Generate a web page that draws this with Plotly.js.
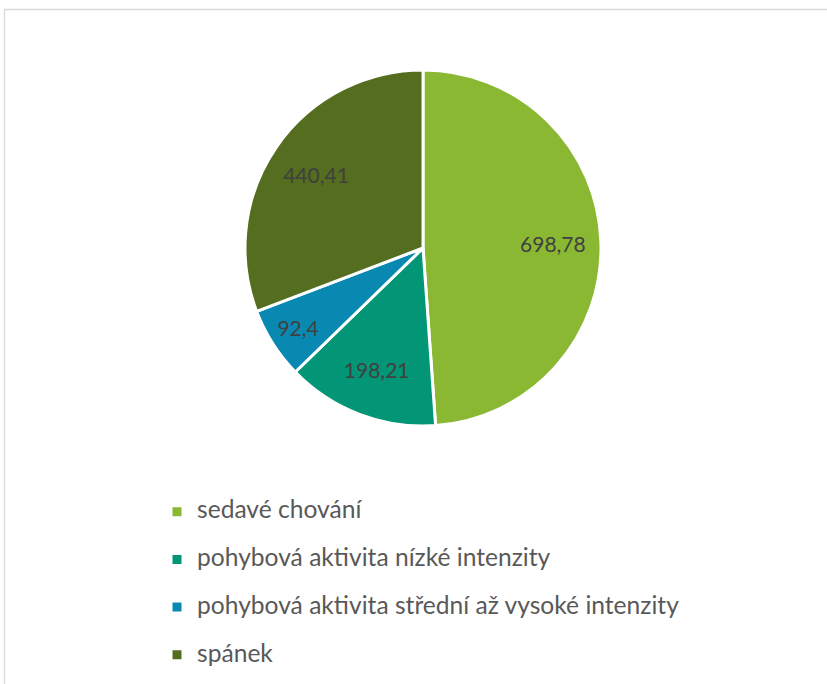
<!DOCTYPE html>
<html>
<head>
<meta charset="utf-8">
<script src="https://cdn.plot.ly/plotly-3.0.1.min.js"></script>
<style>html,body{margin:0;padding:0;background:#fff;}#chart{width:827px;height:684px;}</style>
</head>
<body>
<div id="chart"></div>
<script>
var categories = ["sedavé chování", "pohybová aktivita nízké intenzity", "pohybová aktivita střední až vysoké intenzity", "spánek"];
var values = [698.78, 198.21, 92.4, 440.41];
var colors = ["#8ab833", "#029676", "#0989b1", "#546d1f"];

var W = 827, H = 684;
var FONT = "Lato, 'Open Sans', sans-serif";
var dom = {x: [245/W, 601/W], y: [1 - 426/H, 1 - 70/H]};

var pieTrace = {
  type: "pie",
  labels: categories.map(function(c){ return '<span style="font-size:24.6px">' + c + "</span><br> "; }),
  values: values,
  sort: false,
  direction: "clockwise",
  rotation: 0,
  marker: {colors: colors, line: {color: "#ffffff", width: 3}},
  textinfo: "none",
  hovertext: categories,
  hoverinfo: "text+value",
  domain: dom
};
// transparent ring overlay, only used to place the value labels further out
var labelTrace = {
  type: "pie",
  labels: categories,
  values: values,
  sort: false,
  direction: "clockwise",
  rotation: 0,
  hole: 0.46,
  showlegend: false,
  marker: {colors: ["rgba(0,0,0,0)","rgba(0,0,0,0)","rgba(0,0,0,0)","rgba(0,0,0,0)"], line: {width: 0}},
  textinfo: "value",
  textposition: "inside",
  insidetextorientation: "horizontal",
  textfont: {family: FONT, size: 21, color: "#404040"},
  hoverinfo: "skip",
  domain: dom
};
var layout = {
  width: W, height: H,
  margin: {l: 0, r: 0, t: 0, b: 0, autoexpand: false},
  separators: ", ",
  paper_bgcolor: "#ffffff",
  showlegend: true,
  legend: {
    x: 157/W, y: 1 - 494/H, xanchor: "left", yanchor: "top",
    valign: "top",
    font: {family: FONT, size: 17.2, color: "#595959"},
    bgcolor: "rgba(0,0,0,0)"
  },
  shapes: [{
    type: "rect", xref: "paper", yref: "paper",
    x0: 4.5/W, x1: 1.05, y0: -0.05, y1: 1 - 9.5/H,
    line: {color: "#d9d9d9", width: 1.3}
  }]
};
Plotly.newPlot("chart", [pieTrace, labelTrace], layout, {displayModeBar: false});
</script>
</body>
</html>
